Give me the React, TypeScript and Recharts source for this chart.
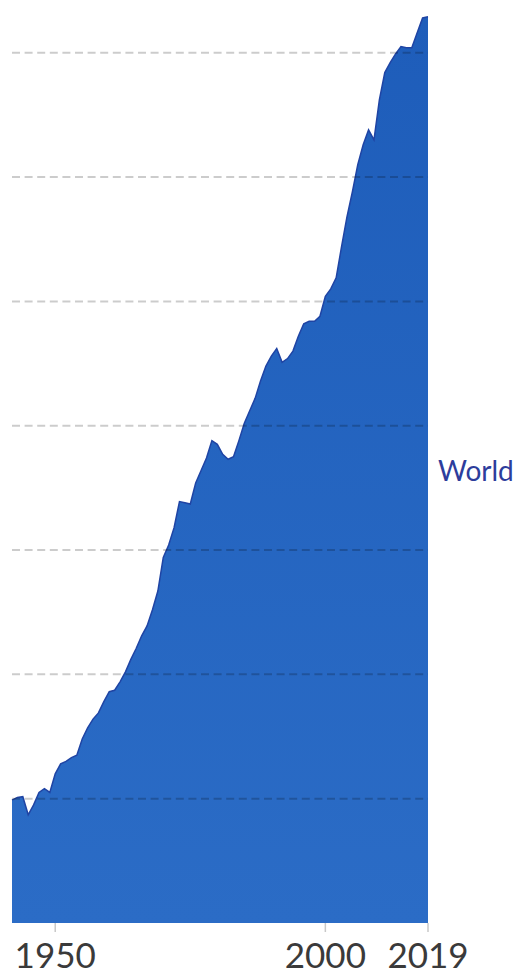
import { AreaChart, Area, XAxis, YAxis, ReferenceLine } from 'recharts';

// World annual CO2 emissions (billion tonnes)
const years = [
  1942, 1943, 1944, 1945, 1946, 1947, 1948, 1949, 1950, 1951,
  1952, 1953, 1954, 1955, 1956, 1957, 1958, 1959, 1960, 1961,
  1962, 1963, 1964, 1965, 1966, 1967, 1968, 1969, 1970, 1971,
  1972, 1973, 1974, 1975, 1976, 1977, 1978, 1979, 1980, 1981,
  1982, 1983, 1984, 1985, 1986, 1987, 1988, 1989, 1990, 1991,
  1992, 1993, 1994, 1995, 1996, 1997, 1998, 1999, 2000, 2001,
  2002, 2003, 2004, 2005, 2006, 2007, 2008, 2009, 2010, 2011,
  2012, 2013, 2014, 2015, 2016, 2017, 2018, 2019,
];

const worldEmissions = [
  4.94, 5.05, 5.08, 4.35, 4.75, 5.25, 5.4, 5.25, 6.0, 6.4,
  6.5, 6.65, 6.75, 7.4, 7.85, 8.2, 8.45, 8.9, 9.3, 9.36,
  9.7, 10.1, 10.6, 11.05, 11.55, 11.95, 12.6, 13.35, 14.7, 15.2,
  15.9, 16.95, 16.9, 16.85, 17.7, 18.2, 18.7, 19.4, 19.25, 18.85,
  18.65, 18.75, 19.4, 20.1, 20.6, 21.1, 21.8, 22.4, 22.8, 23.1,
  22.55, 22.7, 23.0, 23.6, 24.1, 24.2, 24.2, 24.4, 25.2, 25.5,
  25.95, 27.2, 28.4, 29.4, 30.5, 31.3, 31.9, 31.5, 33.1, 34.2,
  34.6, 34.95, 35.25, 35.2, 35.2, 35.8, 36.4, 36.45,
];

const xTicks = [1950, 2000, 2019];
const gridValues = [5, 10, 15, 20, 25, 30, 35];
const seriesName = 'World';

const data = years.map((year, i) => ({ year, value: worldEmissions[i] }));

export default function App() {
  return (
    <div style={{ position: 'absolute', left: 0, top: 0, width: 523, height: 976, background: '#fff' }}>
      <AreaChart
        width={523}
        height={976}
        data={data}
        margin={{ top: 3, right: 95, bottom: 0, left: 12 }}
      >
        <defs>
          <linearGradient id="worldFill" x1="0" y1="0" x2="0" y2="1">
            <stop offset="0%" stopColor="#1e5dba" />
            <stop offset="100%" stopColor="#2b6cc6" />
          </linearGradient>
        </defs>
        <XAxis
          dataKey="year"
          type="number"
          domain={[1942, 2019]}
          ticks={xTicks}
          axisLine={false}
          tickLine={{ stroke: '#c8c8c8', strokeWidth: 1.5 }}
          tickSize={9}
          tickMargin={11}
          height={53}
          interval={0}
          tick={{ fill: '#3a3a3a', fontSize: 35, fontFamily: 'Lato, sans-serif' }}
        />
        <YAxis hide domain={[0, 37]} />
        <Area
          type="linear"
          dataKey="value"
          stroke="#1f44a4"
          strokeWidth={1.5}
          fill="url(#worldFill)"
          fillOpacity={1}
          isAnimationActive={false}
        />
        {gridValues.map((v) => (
          <ReferenceLine
            key={v}
            y={v}
            stroke="#000"
            strokeOpacity={0.2}
            strokeWidth={2}
            strokeDasharray="8 4.6"
          />
        ))}
      </AreaChart>
      <div
        style={{
          position: 'absolute',
          left: 438,
          top: 456,
          fontFamily: 'Lato, sans-serif',
          fontSize: 28,
          color: '#2d3d9c',
          lineHeight: 1,
        }}
      >
        {seriesName}
      </div>
    </div>
  );
}
